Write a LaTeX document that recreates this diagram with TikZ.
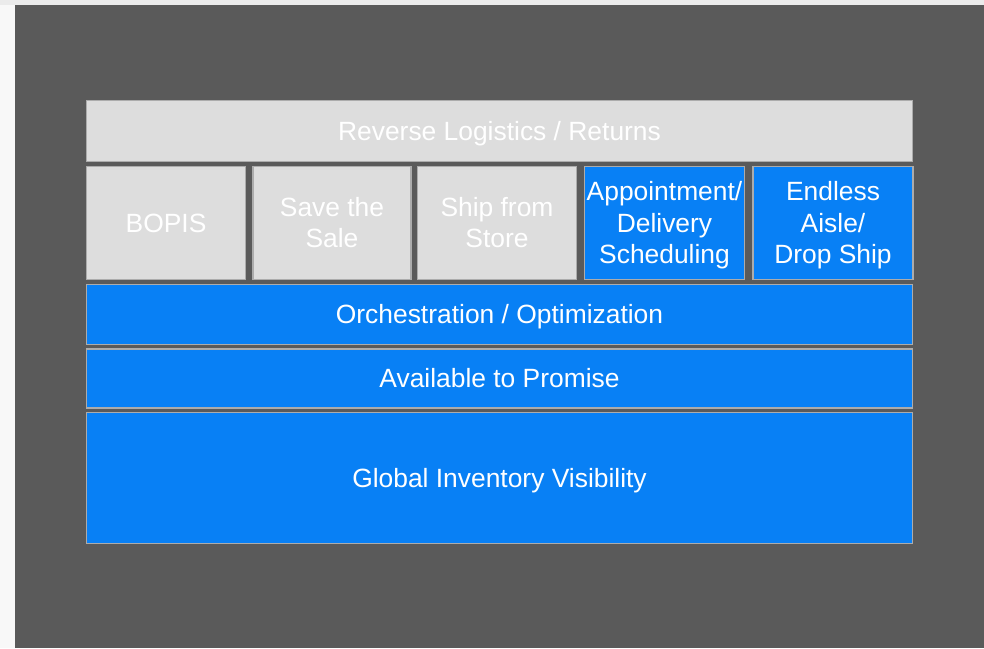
\documentclass[tikz,border=0pt]{standalone}
\usepackage{fontspec}
\setmainfont{Liberation Sans}
\definecolor{bgdark}{RGB}{90,90,90}
\definecolor{topstrip}{RGB}{235,235,235}
\definecolor{leftstrip}{RGB}{248,248,248}
\definecolor{boxgray}{RGB}{221,221,221}
\definecolor{boxblue}{RGB}{8,128,245}
\definecolor{edge}{RGB}{172,172,172}
\newcommand\lnS{\rule[-5.6pt]{0pt}{29.5pt}}
\begin{document}
\begin{tikzpicture}[x=1pt,y=-1pt,
  cell/.style={draw=edge,line width=1.5pt,text=white,align=center,inner sep=0pt,
    font=\fontsize{26.4}{31.5}\selectfont},
  graycell/.style={cell,fill=boxgray},
  bluecell/.style={cell,fill=boxblue}]
\useasboundingbox (0,0) rectangle (984,648);
\fill[topstrip] (0,0) rectangle (984,5);
\fill[leftstrip] (0,5) rectangle (15,648);
\fill[bgdark] (15,5) rectangle (984,648);
% rows
\node[graycell,minimum width=826pt,minimum height=61pt] (rev) at (499.5,131) {\lnS Reverse Logistics / Returns};
\node[graycell,minimum width=159pt,minimum height=113pt] (bopis) at (166,223) {\lnS BOPIS};
\node[graycell,minimum width=158pt,minimum height=113pt] (save) at (332,223) {\lnS Save the\\\lnS Sale};
\node[graycell,minimum width=159pt,minimum height=113pt] (ship) at (497,223) {\lnS Ship from\\\lnS Store};
\node[bluecell,minimum width=160pt,minimum height=113pt] (appt) at (664.5,223) {\lnS Appointment/\\\lnS Delivery\\\lnS Scheduling};
\node[bluecell,minimum width=160pt,minimum height=113pt] (aisle) at (833,223) {\lnS Endless\\\lnS Aisle/\\\lnS Drop Ship};
\node[bluecell,minimum width=826pt,minimum height=60pt] (orch) at (499.5,314.5) {\lnS Orchestration / Optimization};
\node[bluecell,minimum width=826pt,minimum height=59pt] (atp) at (499.5,378.5) {\lnS Available to Promise};
\node[bluecell,minimum width=826pt,minimum height=131pt] (giv) at (499.5,478) {\lnS Global Inventory Visibility};
\end{tikzpicture}
\end{document}
